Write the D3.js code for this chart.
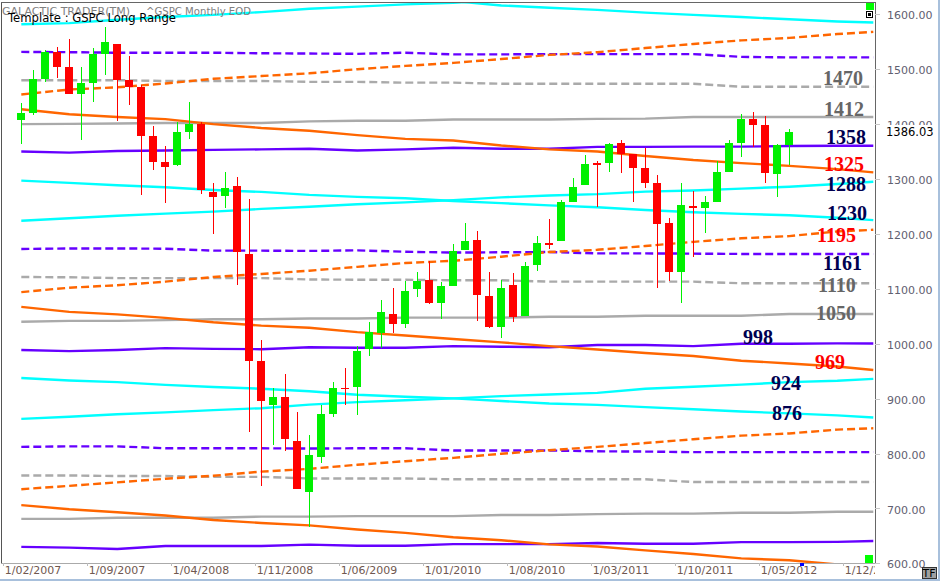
<!DOCTYPE html>
<html><head><meta charset="utf-8">
<script src="https://cdn.jsdelivr.net/npm/d3@7"></script>
<style>
html,body{margin:0;padding:0;background:#fff;}
svg{display:block;}
</style>
</head><body>
<svg id="chart" width="940" height="581"></svg>
<script>
// ---------------- DATA ----------------
// monthly candles, month index 0 = Feb 2007 (first candle = Mar 2007)
const firstMonth = 1;
const opens  = [1406.8,1420.8,1482.4,1530.6,1504.7,1455.2,1474.0,1527.3,1545.8,1479.6,
  1468.0,1378.6,1330.5,1326.4,1386.0,1399.6,1276.7,1269.4,1287.8,1164.2,968.7,888.6,
  903.0,823.1,729.6,793.6,872.7,920.0,920.8,990.2,1019.5,1054.9,1036.2,1098.9,
  1116.6,1073.9,1105.4,1171.2,1188.6,1087.3,1031.1,1107.5,1049.7,1143.5,1183.7,1186.6,
  1257.6,1289.1,1328.6,1329.5,1365.2,1345.2,1320.6,1292.6,1219.1,1131.2,1251.0,1246.9,
  1258.9,1312.5,1365.9,1408.5,1397.9,1309.9,1362.3];
const highs  = [1438.9,1498.0,1535.6,1540.6,1555.9,1503.9,1538.7,1576.1,1545.8,1523.6,
  1471.8,1396.0,1359.7,1404.6,1440.2,1404.1,1292.2,1313.2,1303.0,1264.1,1007.5,918.9,
  943.9,875.0,833.0,888.7,930.2,956.2,996.7,1039.5,1080.2,1101.4,1113.7,1130.4,
  1150.5,1112.4,1180.7,1219.8,1205.1,1131.2,1115.8,1129.2,1148.9,1196.1,1227.1,1262.6,
  1302.7,1344.1,1332.3,1366.4,1370.6,1345.2,1356.5,1307.4,1229.3,1292.7,1277.6,1269.4,
  1333.5,1371.9,1419.2,1422.4,1415.3,1363.5,1391.7];
const lows   = [1364.0,1416.4,1476.7,1484.2,1454.3,1370.6,1440.0,1489.6,1406.1,1435.7,
  1270.1,1316.8,1257.0,1324.4,1373.1,1272.0,1200.4,1247.5,1106.4,839.8,741.0,815.7,
  804.9,734.5,666.8,783.3,866.1,888.9,869.3,978.5,992.0,1020.2,1029.4,1085.9,
  1071.6,1044.5,1105.4,1170.7,1040.8,1028.3,1010.9,1039.7,1049.7,1131.9,1173.0,1186.6,
  1257.6,1289.1,1249.1,1312.5,1311.8,1258.1,1282.9,1101.5,1114.2,1074.8,1158.7,1202.4,
  1258.9,1312.5,1340.0,1357.4,1292.0,1266.7,1325.4];
const closes = [1420.9,1482.4,1530.6,1503.4,1455.3,1474.0,1526.8,1549.4,1481.1,1468.4,
  1378.6,1330.6,1322.7,1385.6,1400.4,1280.0,1267.4,1282.8,1166.4,968.8,896.2,903.3,
  825.9,735.1,797.9,872.8,919.1,919.3,987.5,1020.6,1057.1,1036.2,1095.6,1115.1,
  1073.9,1104.5,1169.4,1186.7,1089.4,1030.7,1101.6,1049.3,1141.2,1183.3,1180.6,1257.6,
  1286.1,1327.2,1325.8,1363.6,1345.2,1320.6,1292.3,1218.9,1131.4,1253.3,1247.0,1257.6,
  1312.4,1365.7,1408.5,1397.9,1310.3,1362.2,1386.03];
const lastPrice = 1386.03;

// month indices at which the level lines were read
const lineMonths = [1,5,9,13,17,21,25,29,33,37,41,45,49,53,57,61,65,69,72];

const cyanTopUp     = [1582,1584,1590,1595,1599,1604,1610,1614,1618,1621,1626,1631,null,null,null,null,null,null,null];
const cyanTopDown   = [null,null,null,null,null,null,null,null,null,1624,1616,1612,1608,1603,1599,1595,1591,1587,1585];
const purpleDashTop = [1531.5,1531,1530,1530,1530,1529,1528.5,1528,1530,1527,1527,1527.5,1527.5,1527.5,1527.5,1522.5,1521.5,1521.5,1521.5];
const grayDashTop   = [1480,1480,1480,1478.5,1478.5,1478.5,1477,1477,1475.5,1475.5,1473.5,1473.5,1473.5,1473.5,1473.5,1468,1468,1468,1468];
const orangeDashTop = [1454,1463,1467,1474,1482.5,1487.5,1492.5,1500,1506,1511.5,1518.5,1526,1531,1538.5,1546,1552.5,1557,1564,1568];
const graySolidTop  = [1400,1400.5,1401,1402,1402,1402,1405,1406,1406,1408.5,1408.5,1408.5,1409.5,1410,1413,1413,1413,1413,1413];
const orangeSolidTop= [1427,1418,1413,1409,1400,1393,1388,1380,1373,1370,1361,1354,1350,1342,1334.5,1329,1324,1318,1312];
const purpleSolidTop= [1350,1348,1351,1352,1353,1354,1355,1352,1354,1357,1355,1355,1358.5,1358.5,1359,1359,1360,1360.5,1360.5];
const cyanMidDown   = [1297,1293,1288.5,1285,1280,1276.5,1271,1267.5,1265,1260,1256,1252,1248.5,1243.5,1239.5,1236.5,1234,1229.5,1225];
const cyanMidUp     = [1224,1228.5,1233,1237,1240.5,1245.5,1249.5,1254,1257.5,1261.5,1266.5,1270,1272.5,1277,1279,1282.5,1286,1291,1295];
const orangeDashMid = [1094,1102,1106.5,1113,1121.5,1127,1133,1140,1147,1151,1158.5,1167,1171,1178,1185.5,1192,1196,1204.5,1207.5];
const purpleDashMid = [1172.5,1173.5,1173.5,1173,1169.5,1169.5,1169,1170,1167.5,1166,1166.5,1167,1164.5,1164.5,1164,1163.5,1163.5,1163.5,1163.5];
const grayDashMid   = [1121.5,1121,1119.5,1119.5,1119.5,1119.5,1117,1116.5,1116.5,1115.5,1115.5,1113,1113,1113,1113,1110,1110,1110,1110];
const graySolidMid  = [1040,1041.5,1041.5,1043,1044.5,1044.5,1046,1046,1047.5,1047.5,1047.5,1049,1049,1051,1051,1051,1054,1054,1054];
const purpleSolidMid= [988.5,986.5,988.5,992,990.5,990,993.5,992.5,992.5,995.5,994.5,993.5,997.5,997.5,995.5,1000,1000,1000.5,1000.5];
const orangeSolidMid= [1067,1058,1053.5,1047,1039,1033,1029,1021,1015,1008.5,1002.5,995.5,989.5,983,977.5,969,964,958.5,952];
const cyanLowDown   = [937.5,933,930,925,921,918,913.5,907,903.5,900.5,895.5,891,888.5,884.5,880.5,876.5,873,869.5,865.5];
const cyanLowUp     = [863,867,871.5,875,879,882.5,889,893.5,897,900.5,904.5,907.5,910.5,918,921.5,925.5,930,932.5,936];
const orangeDashLow = [735,741,747.5,754,759.5,767,772,779.5,786,792,799.5,806,812,819,826,832.5,836.5,843.5,846];
const purpleDashLow = [812,813,813,809.5,809.5,809.5,809,809.5,809.5,805.5,805.5,805.5,804,803.5,802.5,802.5,802.5,802.5,802.5];
const grayDashLow   = [760,760,759,759,757.5,757.5,754.5,754.5,754.5,753,753,753,753,753,748,748,748,748,748];
const graySolidLow  = [681,681,683,683,683,685,685,686,686,686,688,688,689.5,690.5,690.5,692,692,694,694];
const purpleSolidLow= [630,628.5,626,631.5,631.5,631.5,634,632,632,635,635,635,637,635.5,635.5,638.5,638.5,639,640.5];
const orangeSolidLow= [706,698.5,693,687,679,673.5,669,661.5,655.5,647.5,642,634.5,630.5,623.5,617,609,605.5,598,594];

// level labels
const levelLabels = [1470,1412,1358,1325,1288,1230,1195,1161,1110,1050,998,969,924,876];
const levelKinds  = ["gray","gray","navy","red","navy","navy","red","navy","gray","gray","navy","red","navy","navy"];

// axis tick labels
const yTicks = [600,700,800,900,1000,1100,1200,1300,1400,1500,1600];
const xTickMonths = [0,7,14,21,28,35,42,49,56,63,70];
const xTickLabels = ["1/02/2007","1/09/2007","1/04/2008","1/11/2008","1/06/2009","1/01/2010",
  "1/08/2010","1/03/2011","1/10/2011","1/05/2012","1/12/2012"];

// ---------------- LAYOUT / STYLE ----------------
const COL = {cyan:"#00ffff", purple:"#6600ff", orange:"#ff6600", gray:"#aaaaaa",
  up:"#00f000", down:"#ff0000", navy:"#000050", red:"#ff0000", grayText:"#666666"};
const plot = {left:1, top:2, right:875, bottom:563.3};
const labelX  = [823,824,826,824,826,827,817,823,818,816,743,815,771,772];
const labelDy = [-7.7,-8.5,-10.5,-1,-1.3,-4,-1.6,7.4,2,-3,-8,1,-2.6,1.4];

const svg = d3.select("#chart");
const y = d3.scaleLinear().domain([600,1600]).range([563.3,14.3]);
const x = d3.scaleLinear().domain([0,72]).range([9.3,873.3]);       // month centre
const xt = d3.scaleLinear().domain([0,72]).range([3.3,867.3]);      // month start (ticks)

// clip
const defs = svg.append("defs");
defs.append("clipPath").attr("id","clip").append("rect")
  .attr("x",plot.left).attr("y",plot.top).attr("width",plot.right-plot.left).attr("height",plot.bottom-plot.top);
defs.append("clipPath").attr("id","clipx").append("rect")
  .attr("x",0).attr("y",560).attr("width",plot.right).attr("height",20);

const g = svg.append("g").attr("clip-path","url(#clip)");

// level lines
const lineSeries = [
  {v:cyanTopUp,c:COL.cyan,d:null},{v:cyanTopDown,c:COL.cyan,d:null},
  {v:cyanMidDown,c:COL.cyan,d:null},{v:cyanMidUp,c:COL.cyan,d:null},
  {v:cyanLowDown,c:COL.cyan,d:null},{v:cyanLowUp,c:COL.cyan,d:null},
  {v:grayDashTop,c:COL.gray,d:"8,4"},{v:grayDashMid,c:COL.gray,d:"8,4"},{v:grayDashLow,c:COL.gray,d:"8,4"},
  {v:graySolidTop,c:COL.gray,d:null},{v:graySolidMid,c:COL.gray,d:null},{v:graySolidLow,c:COL.gray,d:null},
  {v:purpleDashTop,c:COL.purple,d:"8,4"},{v:purpleDashMid,c:COL.purple,d:"8,4"},{v:purpleDashLow,c:COL.purple,d:"8,4"},
  {v:purpleSolidTop,c:COL.purple,d:null},{v:purpleSolidMid,c:COL.purple,d:null},{v:purpleSolidLow,c:COL.purple,d:null},
  {v:orangeDashTop,c:COL.orange,d:"8,4"},{v:orangeDashMid,c:COL.orange,d:"8,4"},{v:orangeDashLow,c:COL.orange,d:"8,4"},
  {v:orangeSolidTop,c:COL.orange,d:null},{v:orangeSolidMid,c:COL.orange,d:null},{v:orangeSolidLow,c:COL.orange,d:null}
];
const lineGen = d3.line()
  .defined(d => d[1] != null)
  .x(d => x(d[0])).y(d => y(d[1]))
  .curve(d3.curveLinear);
lineSeries.forEach(s => {
  const pts = lineMonths.map((m,i) => [m, s.v[i]]);
  g.append("path").attr("d", lineGen(pts))
    .attr("fill","none").attr("stroke",s.c).attr("stroke-width",2.4)
    .attr("stroke-dasharray", s.d);
});

// candles
const candles = opens.map((o,i) => ({m:firstMonth+i, o, h:highs[i], l:lows[i], c:closes[i]}));
const cg = g.append("g").attr("shape-rendering","crispEdges");
cg.selectAll("rect.wick").data(candles).join("rect").attr("class","wick")
  .attr("x", d => x(d.m)-0.5).attr("width",1)
  .attr("y", d => y(d.h)).attr("height", d => y(d.l)-y(d.h))
  .attr("fill", d => d.c >= d.o ? COL.up : COL.down);
cg.selectAll("rect.body").data(candles).join("rect").attr("class","body")
  .attr("x", d => x(d.m)-4).attr("width",8)
  .attr("y", d => y(Math.max(d.o,d.c)))
  .attr("height", d => Math.max(1.5, Math.abs(y(d.o)-y(d.c))))
  .attr("fill", d => d.c >= d.o ? COL.up : COL.down);

// level labels
svg.append("g").selectAll("text").data(levelLabels).join("text")
  .attr("x",(d,i)=>labelX[i]).attr("y",(d,i)=>y(d)+labelDy[i]+7)
  .attr("font-family","'Liberation Serif','DejaVu Serif',serif")
  .attr("font-weight","bold").attr("font-size",20)
  .attr("fill",(d,i)=> levelKinds[i]==="gray"?COL.grayText:(levelKinds[i]==="red"?COL.red:COL.navy))
  .text(d=>d);

// frame
svg.append("line").attr("x1",plot.left).attr("x2",plot.left).attr("y1",plot.top).attr("y2",plot.bottom)
  .attr("stroke","#555").attr("shape-rendering","crispEdges");
svg.append("line").attr("x1",plot.left).attr("x2",plot.right).attr("y1",plot.top).attr("y2",plot.top)
  .attr("stroke","#666").attr("shape-rendering","crispEdges");
svg.append("line").attr("x1",plot.right).attr("x2",plot.right).attr("y1",plot.top).attr("y2",plot.bottom)
  .attr("stroke","#666").attr("shape-rendering","crispEdges");
svg.append("line").attr("x1",plot.left).attr("x2",plot.right).attr("y1",plot.bottom).attr("y2",plot.bottom)
  .attr("stroke","#aaa").attr("shape-rendering","crispEdges");

// y axis
const yAxis = d3.axisRight(y).tickValues(yTicks).tickFormat(d3.format(".2f")).tickSize(5).tickPadding(7);
const ya = svg.append("g").attr("transform",`translate(${plot.right},0)`).call(yAxis);
ya.select(".domain").remove();
ya.selectAll(".tick line").attr("stroke","#c8c8c8").attr("shape-rendering","crispEdges");
ya.selectAll(".tick text").attr("fill","#5f6070").attr("font-size",11)
  .attr("font-family","'DejaVu Sans',Verdana,sans-serif").attr("dy","0.42em");

// current price tag
svg.append("rect").attr("x",877).attr("y",125).attr("width",60).attr("height",14).attr("fill","#fff");
svg.append("text").attr("x",886).attr("y",y(lastPrice)+4.5).attr("fill","#000")
  .attr("font-size",11.5).attr("font-family","'DejaVu Sans',Verdana,sans-serif")
  .text(d3.format(".2f")(lastPrice));

// x axis
const xaWrap = svg.append("g").attr("clip-path","url(#clipx)");
const xAxis = d3.axisBottom(xt).tickValues(xTickMonths).tickFormat((d,i)=>xTickLabels[i]).tickSize(3).tickPadding(1);
const xa = xaWrap.append("g").attr("transform",`translate(0,${plot.bottom})`).call(xAxis);
xa.select(".domain").remove();
xa.selectAll(".tick line").attr("stroke","#bbb").attr("shape-rendering","crispEdges");
xa.selectAll(".tick text").attr("text-anchor","start").attr("x",1).attr("y",3).attr("dy","0.72em")
  .attr("fill","#705850").attr("font-size",11).attr("font-family","'DejaVu Sans',Verdana,sans-serif");

// header
svg.append("text").attr("x",2).attr("y",15).attr("textLength",128).attr("lengthAdjust","spacingAndGlyphs")
  .attr("font-size",11).attr("font-family","'DejaVu Sans',Tahoma,sans-serif").attr("fill","#808080")
  .text("GALACTIC TRADER(TM)");
svg.append("text").attr("x",146).attr("y",15).attr("textLength",105).attr("lengthAdjust","spacingAndGlyphs")
  .attr("font-size",11).attr("font-family","'DejaVu Sans',Tahoma,sans-serif").attr("fill","#808080")
  .text("^GSPC Monthly EOD");
svg.append("text").attr("x",8).attr("y",22).attr("textLength",168).attr("lengthAdjust","spacingAndGlyphs")
  .attr("font-size",12).attr("font-family","'DejaVu Sans',Tahoma,sans-serif").attr("fill","#000")
  .text("Template : GSPC Long Range");

// widgets
const w = svg.append("g").attr("shape-rendering","crispEdges");
w.append("rect").attr("x",866).attr("y",3).attr("width",8).attr("height",7).attr("fill","#00ff00");
w.append("rect").attr("x",866.5).attr("y",11.5).attr("width",6).attr("height",6).attr("fill","#fff").attr("stroke","#000");
w.append("rect").attr("x",868).attr("y",13).attr("width",3).attr("height",3).attr("fill","#000");
w.append("rect").attr("x",865).attr("y",555).attr("width",8).attr("height",8).attr("fill","#00ff00");
w.append("rect").attr("x",800).attr("y",563).attr("width",4).attr("height",3).attr("fill","#0000ff");
w.append("rect").attr("x",922).attr("y",567).attr("width",14).attr("height",11).attr("fill","#a0a0a0").attr("stroke","#333");
svg.append("text").attr("x",929).attr("y",576.5).attr("text-anchor","middle").attr("font-size",11)
  .attr("font-family","'DejaVu Sans',sans-serif").attr("fill","#000").text("TF");
w.append("rect").attr("x",0).attr("y",578.5).attr("width",940).attr("height",2.5).attr("fill","#a8c0dc");
w.append("rect").attr("x",938).attr("y",0).attr("width",2).attr("height",581).attr("fill","#a8c0dc");
</script>
</body></html>
